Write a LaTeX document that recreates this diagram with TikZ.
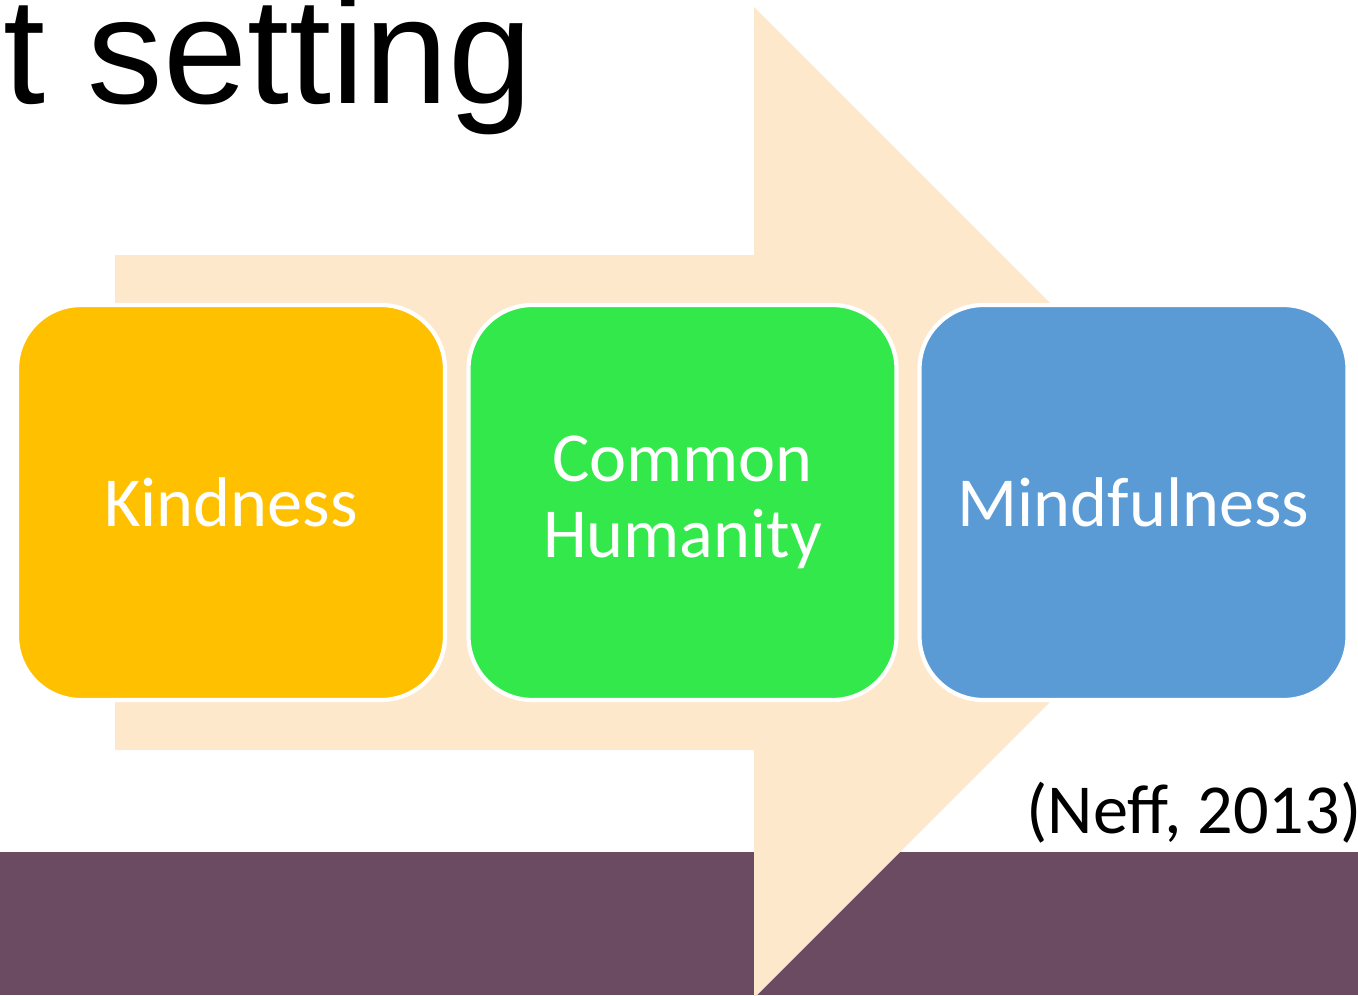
\documentclass[tikz,border=0pt]{standalone}
\usepackage{fontspec}
\setmainfont{Carlito}
\newfontfamily\titlefont{Liberation Sans}
\usepackage{tikz}

\definecolor{peach}{HTML}{FEE8CC}
\definecolor{plum}{HTML}{6A4B62}
\definecolor{gold}{HTML}{FFC000}
\definecolor{leaf}{HTML}{33E84A}
\definecolor{sky}{HTML}{5B9BD5}

\begin{document}
\begin{tikzpicture}
        [
          box/.style={draw=white, line width=1.2pt, rounded corners=0.64cm,
            minimum width=4.28cm, minimum height=3.95cm, align=center,
            text=white, font=\fontsize{20}{21.5}\selectfont},
          cite/.style={anchor=base east, inner sep=0, font=\fontsize{20}{24}\selectfont}
        ]
        \useasboundingbox (0,0) rectangle (13.58,9.95);
        % footer band
        \fill[plum] (0,0) rectangle (13.58,1.43);
        % big arrow behind the boxes
        \fill[peach] (1.15,7.40) -- (7.54,7.40) -- (7.54,9.88) -- (12.495,4.925)
          -- (7.54,-0.03) -- (7.54,2.45) -- (1.15,2.45) -- cycle;
        % heading
        \node [anchor=base west, inner sep=0, font=\titlefont\fontsize{43}{43}\selectfont]
          (title) at (0.03,8.92) {t setting};
        % the three parts
        \foreach \x/\name/\col/\txt in {2.31/kind/gold/Kindness,
            6.825/human/leaf/{Common\\Humanity},
            11.335/mind/sky/Mindfulness} {
            \node [box, fill=\col] (\name) at (\x,4.925) {\txt};
        }
        % source
        \node [cite] (neff) at (13.62,1.62) {(Neff, 2013)};
      \end{tikzpicture}
\end{document}
